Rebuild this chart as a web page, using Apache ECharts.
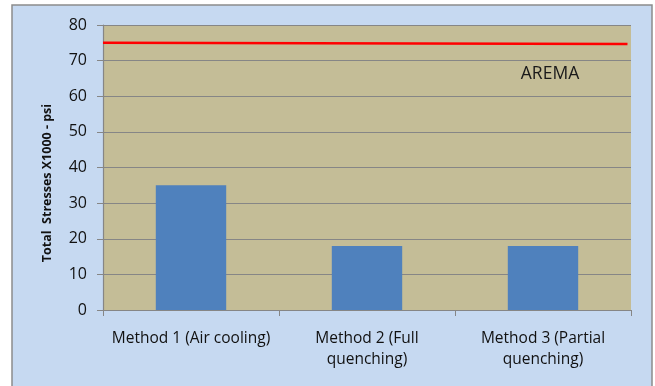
<!DOCTYPE html>
<html>
<head>
<meta charset="utf-8">
<script src="https://cdn.jsdelivr.net/npm/echarts@6/dist/echarts.min.js"></script>
<style>
  html, body { margin: 0; padding: 0; background: #ffffff; }
  #chart { width: 655px; height: 386px; }
</style>
</head>
<body>
<div id="chart"></div>
<script>
// Bar categories and total stresses (x1000 psi)
const categories = ['Method 1 (Air cooling)', 'Method 2 (Full\nquenching)', 'Method 3 (Partial\nquenching)'];
const stresses = [35, 18, 18];

// AREMA limit line: positions along the category span and its values
const aremaX = [0, 2.98];
const aremaY = [75, 74.7];
const aremaLabel = 'AREMA';

// Y axis range and title
const yMin = 0, yMax = 80, yStep = 10;
const yTitle = 'Total  Stresses X1000 - psi';

const font = 'Open Sans, Liberation Sans, sans-serif';
const chart = echarts.init(document.getElementById('chart'), null, { renderer: 'canvas' });

chart.setOption({
  backgroundColor: '#ffffff',
  animation: false,
  graphic: [
    {
      type: 'rect', z: -10, silent: true,
      shape: { x: 12, y: 5, width: 640, height: 400 },
      style: { fill: '#c6d9f1', stroke: '#8c8c8c', lineWidth: 1.5 }
    },
    {
      type: 'text', z: 10, silent: true,
      x: 550, y: 74,
      style: { text: aremaLabel, font: '17.5px ' + font, fill: '#1a1a1a', align: 'center', verticalAlign: 'middle' }
    },
    {
      type: 'text', z: 10, silent: true,
      x: 47, y: 183, rotation: Math.PI / 2,
      style: { text: yTitle, font: 'bold 12.5px ' + font, fill: '#111', align: 'center', verticalAlign: 'middle' }
    }
  ],
  grid: {
    left: 103, right: 24, top: 25, bottom: 76,
    show: true, backgroundColor: '#c4bd97', borderWidth: 0
  },
  xAxis: [
    {
      type: 'category', data: categories,
      axisLine: { lineStyle: { color: '#868686', width: 1.2 } },
      axisTick: { show: true, length: 6, lineStyle: { color: '#868686' } },
      axisLabel: { color: '#111', fontFamily: font, fontSize: 15.5, margin: 18, lineHeight: 21, interval: 0 },
      splitLine: { show: false }
    },
    {
      type: 'value', min: 0, max: 3, show: false
    }
  ],
  yAxis: {
    type: 'value', min: yMin, max: yMax, interval: yStep,
    axisLine: { show: true, lineStyle: { color: '#868686', width: 1.2 } },
    axisTick: { show: true, length: 6, lineStyle: { color: '#868686' } },
    axisLabel: { color: '#111', fontFamily: font, fontSize: 16, margin: 16 },
    splitLine: { show: true, lineStyle: { color: '#868686', width: 1 } }
  },
  series: [
    {
      type: 'bar', data: stresses, xAxisIndex: 0,
      barCategoryGap: '60%',
      itemStyle: { color: '#4f81bd' }
    },
    {
      type: 'line', xAxisIndex: 1,
      data: aremaX.map((x, i) => [x, aremaY[i]]),
      symbol: 'none',
      lineStyle: { color: '#ff0000', width: 2.5 },
      z: 5
    }
  ]
});
</script>
</body>
</html>
